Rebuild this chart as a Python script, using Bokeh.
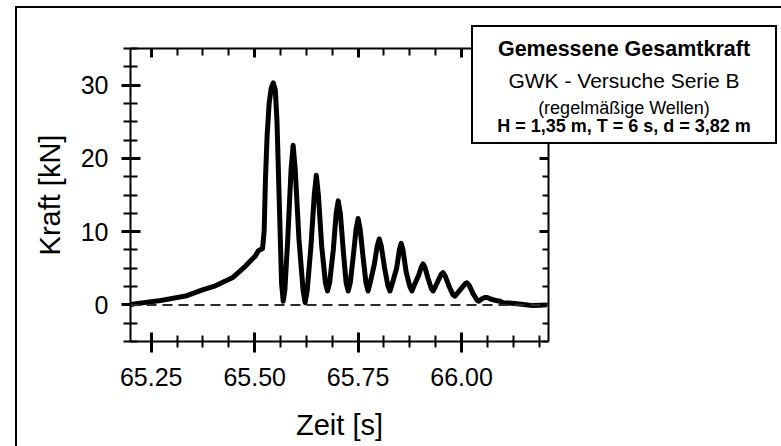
from bokeh.plotting import figure
from bokeh.models import (Range1d, LinearAxis, FixedTicker, Span, Div,
                          PrintfTickFormatter)
from bokeh.layouts import column
from bokeh.embed import file_html
from bokeh.resources import INLINE

# ---- data ----
zeit = [65.200, 65.205, 65.268, 65.333, 65.374, 65.405, 65.446, 65.478, 65.502,
        65.509, 65.519, 65.523, 65.526, 65.530, 65.535, 65.540, 65.545, 65.550,
        65.554, 65.558, 65.562, 65.565, 65.569, 65.573,
        65.580, 65.588, 65.593, 65.598, 65.607, 65.617, 65.622, 65.627,
        65.636, 65.644, 65.649, 65.654, 65.662, 65.671, 65.676, 65.681,
        65.690, 65.697, 65.702, 65.707, 65.714, 65.721, 65.726, 65.731,
        65.738, 65.745, 65.750, 65.755, 65.762, 65.769, 65.774, 65.779,
        65.789, 65.796, 65.801, 65.806, 65.814, 65.822, 65.827, 65.832,
        65.843, 65.850, 65.854, 65.858, 65.866, 65.875, 65.880, 65.885,
        65.896, 65.903, 65.907, 65.911, 65.919, 65.927, 65.931, 65.936,
        65.945, 65.951, 65.955, 65.960, 65.970, 65.979, 65.984, 65.990,
        66.003, 66.009, 66.013, 66.018, 66.028, 66.038, 66.042, 66.048,
        66.056, 66.062, 66.070, 66.086, 66.093, 66.100, 66.115, 66.134,
        66.150, 66.172, 66.190, 66.206]
kraft = [0.0, 0.1, 0.55, 1.2, 2.05, 2.6, 3.7, 5.3, 6.7,
         7.4, 7.7, 10.1, 17.0, 23.0, 27.5, 29.6, 30.3, 29.3,
         25.0, 17.0, 9.0, 3.0, 0.5, 2.0,
         9.0, 18.5, 21.8, 18.5, 9.0, 2.0, 0.3, 2.0,
         8.0, 15.0, 17.7, 15.0, 8.0, 3.0, 1.9, 3.0,
         7.5, 12.5, 14.2, 12.5, 7.5, 3.0, 1.9, 3.0,
         6.5, 10.3, 11.8, 10.3, 6.5, 3.0, 1.9, 3.0,
         5.5, 8.0, 9.0, 8.0, 5.0, 2.6, 1.9, 2.8,
         5.0, 7.6, 8.4, 7.6, 4.5, 2.5, 1.9, 2.6,
         4.0, 5.2, 5.6, 5.2, 3.6, 2.2, 1.9, 2.4,
         3.5, 4.2, 4.4, 4.0, 2.5, 1.4, 1.2, 1.6,
         2.5, 2.9, 3.0, 2.7, 1.5, 0.6, 0.5, 0.8,
         1.0, 1.0, 0.8, 0.55, 0.5, 0.3, 0.25, 0.15,
         0.05, -0.1, -0.05, 0.0]

x_major = [65.25, 65.50, 65.75, 66.00]
x_minor = [65.25 + 0.0625 * i for i in range(16)]
y_major = [0, 10, 20, 30]
y_minor = [-5 + 2.5 * i for i in range(17)]

legend_lines = ["Gemessene Gesamtkraft", "GWK - Versuche Serie B",
                "(regelmäßige Wellen)", "H = 1,35 m, T = 6 s, d = 3,82 m"]

FONT = "Liberation Sans"

p = figure(width=773, height=446, output_backend="svg", toolbar_location=None,
           x_range=Range1d(65.2, 66.21), y_range=Range1d(-5, 35),
           min_border_left=130, min_border_right=225, min_border_top=48,
           min_border_bottom=105, x_axis_label="Zeit [s]", y_axis_label="Kraft [kN]")
p.grid.visible = False
p.outline_line_color = None
p.background_fill_color = "white"
p.border_fill_color = "white"

xt = FixedTicker(ticks=x_major, minor_ticks=x_minor)
yt = FixedTicker(ticks=y_major, minor_ticks=y_minor)


def style(ax, tin, tout, mtin, mtout):
    ax.axis_line_width = 2
    ax.axis_line_color = "black"
    ax.major_tick_line_width = 3
    ax.minor_tick_line_width = 2
    ax.major_tick_line_color = "black"
    ax.minor_tick_line_color = "black"
    ax.major_tick_in = tin
    ax.major_tick_out = tout
    ax.minor_tick_in = mtin
    ax.minor_tick_out = mtout
    ax.major_label_text_font = FONT
    ax.major_label_text_font_size = "25px"
    ax.major_label_text_color = "black"
    ax.axis_label_text_font = FONT
    ax.axis_label_text_font_size = "29px"
    ax.axis_label_text_font_style = "normal"
    ax.axis_label_text_color = "black"


bx = p.xaxis[0]
bx.ticker = xt
bx.formatter = PrintfTickFormatter(format="%.2f")
style(bx, 9, 11, 6, 6)
bx.major_label_standoff = 15
bx.axis_label_standoff = 20

ly = p.yaxis[0]
ly.ticker = yt
style(ly, 10, 9, 7, 7)
ly.major_label_standoff = 13
ly.axis_label_standoff = 12

top = LinearAxis(ticker=xt, major_label_overrides={v: "" for v in x_major})
style(top, 9, 0, 7, 0)
p.add_layout(top, "above")
right = LinearAxis(ticker=yt, major_label_overrides={v: "" for v in y_major})
style(right, 9, 0, 6, 0)
p.add_layout(right, "right")

p.add_layout(Span(location=0, dimension="width", line_color="#2a2a2a",
                  line_width=2, line_dash="10 6"))

p.line(zeit, kraft, line_color="black", line_width=5, line_join="round")

# legend box + outer frame, overlaid as HTML
line_specs = [(legend_lines[0], 21.5, "bold", 12.3),
              (legend_lines[1], 21, "normal", 42.5),
              (legend_lines[2], 18, "normal", 71.5),
              (legend_lines[3], 18, "bold", 90)]
inner = "".join(
    f'<div style="position:absolute;left:0;width:100%;top:{tp}px;'
    f'height:{fs}px;line-height:{fs}px;font-size:{fs}px;font-weight:{fw};'
    f'white-space:nowrap;">{t}</div>'
    for t, fs, fw, tp in line_specs)
html = (
    '<div style="position:relative;width:781px;height:446px;pointer-events:none;">'
    '<div style="position:absolute;left:10px;top:6px;width:771px;height:440px;'
    'border-top:2px solid #000;border-left:2px solid #000;box-sizing:border-box;"></div>'
    '<div style="position:absolute;left:466px;top:25px;width:306px;height:119px;'
    'border:2px solid #000;background:#fff;box-sizing:border-box;'
    f"font-family:'{FONT}',Arial,sans-serif;color:#000;text-align:center;\">"
    + inner + '</div></div>')
overlay = Div(text=html, width=781, height=446,
              styles={"margin-top": "-446px", "position": "relative",
                      "z-index": "10", "pointer-events": "none"})

layout = column(p, overlay)
open("out.html", "w").write(file_html(layout, INLINE))
